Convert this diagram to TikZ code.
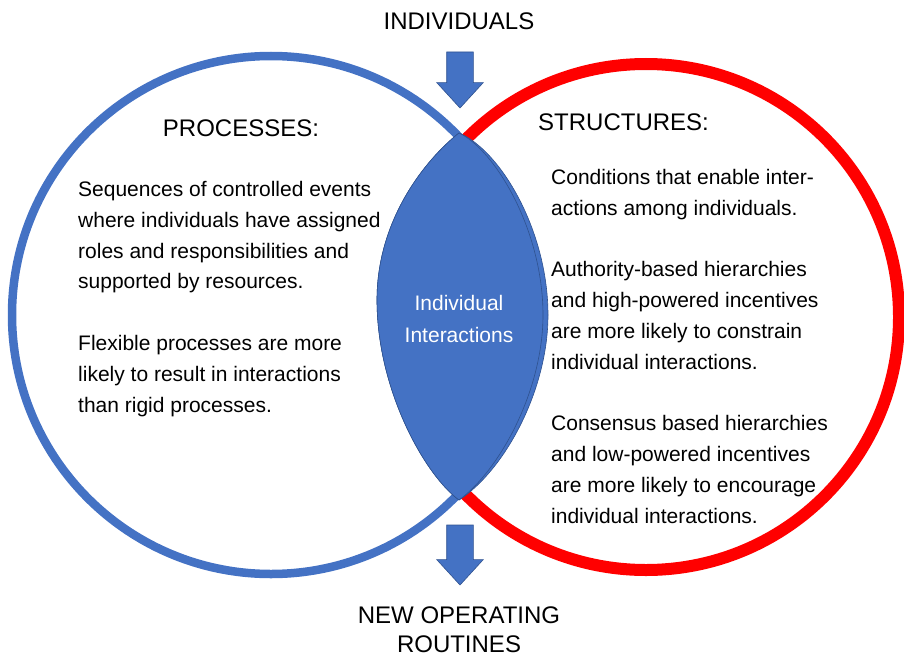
\documentclass[tikz,border=0pt]{standalone}
\usepackage{fontspec}
\setmainfont{Liberation Sans}
\usetikzlibrary{shapes.arrows}
\definecolor{officeblue}{HTML}{4472C4}
\definecolor{edgeblue}{HTML}{2F528F}
\definecolor{brightred}{HTML}{FF0000}

\begin{document}
\begin{tikzpicture}[
  x=1pt,y=-1pt,
  ring/.style={circle,draw,inner sep=0pt,minimum size=#1},
  heading/.style={font=\fontsize{24}{29}\selectfont,inner sep=0pt,align=center},
  body/.style={font=\fontsize{21}{30.8}\selectfont,inner sep=0pt,align=left,anchor=base west},
  lens/.style={fill=officeblue,draw=edgeblue,line width=0.6pt},
  blockarrow/.style={single arrow,fill=officeblue,draw=edgeblue,line width=0.6pt,
    inner xsep=13pt,inner ysep=0pt,single arrow head extend=10pt,outer sep=0pt,
    single arrow tip angle=85,shape border rotate=270,anchor=tip}
]
\useasboundingbox (0,0) rectangle (904,658);

% the two circles
\node[ring=518pt,draw=officeblue,line width=8.5pt] (procRing) at (271,315) {};
\node[ring=506pt,draw=brightred,line width=12pt] (structRing) at (646,317) {};

% overlap: a back copy a little wider on the right, then the front one
\coordinate (lensTop) at (459,133);
\coordinate (lensBot) at (459,500);
\path[lens] (lensTop) .. controls (425,160) and (377,220) .. (377,300)
  .. controls (377,390) and (425,475) .. (lensBot)
  .. controls (505,470) and (548,390) .. (548,315)
  .. controls (548,230) and (500,150) .. (lensTop) -- cycle;
\path[lens] (lensTop) .. controls (425,160) and (377,220) .. (377,300)
  .. controls (377,390) and (425,475) .. (lensBot)
  .. controls (500,470) and (543,390) .. (543,315)
  .. controls (543,230) and (495,150) .. (lensTop) -- cycle;
% base anchor of a multi-line node sits on its last line
\node[font=\fontsize{21}{32}\selectfont,text=white,align=center,inner sep=0pt,anchor=base]
  (lensText) at (459,342) {Individual\\Interactions};

% in and out arrows, placed by their tips
\node[blockarrow,minimum height=56pt] (inArrow) at (460,108) {};
\node[blockarrow,minimum height=60pt] (outArrow) at (460,585) {};

\node[heading,anchor=base] (inLabel) at (459,30) {INDIVIDUALS};
\node[heading,anchor=base] (outLabel) at (459,652) {NEW OPERATING\\ROUTINES};
\node[heading,anchor=base] (procLabel) at (241,136) {PROCESSES:};
\node[heading,anchor=base west] (structLabel) at (538,130) {STRUCTURES:};

\node[body] (procText) at (78,412) {Sequences of controlled events\\
  where individuals have assigned\\roles and responsibilities and\\
  supported by resources.\\[30.8pt]Flexible processes are more\\
  likely to result in interactions\\than rigid processes.};
\node[body] (structText) at (551,523) {Conditions that enable inter-\\
  actions among individuals.\\[30.8pt]Authority-based hierarchies\\
  and high-powered incentives\\are more likely to constrain\\
  individual interactions.\\[30.8pt]Consensus based hierarchies\\
  and low-powered incentives\\are more likely to encourage\\
  individual interactions.};
\end{tikzpicture}
\end{document}
